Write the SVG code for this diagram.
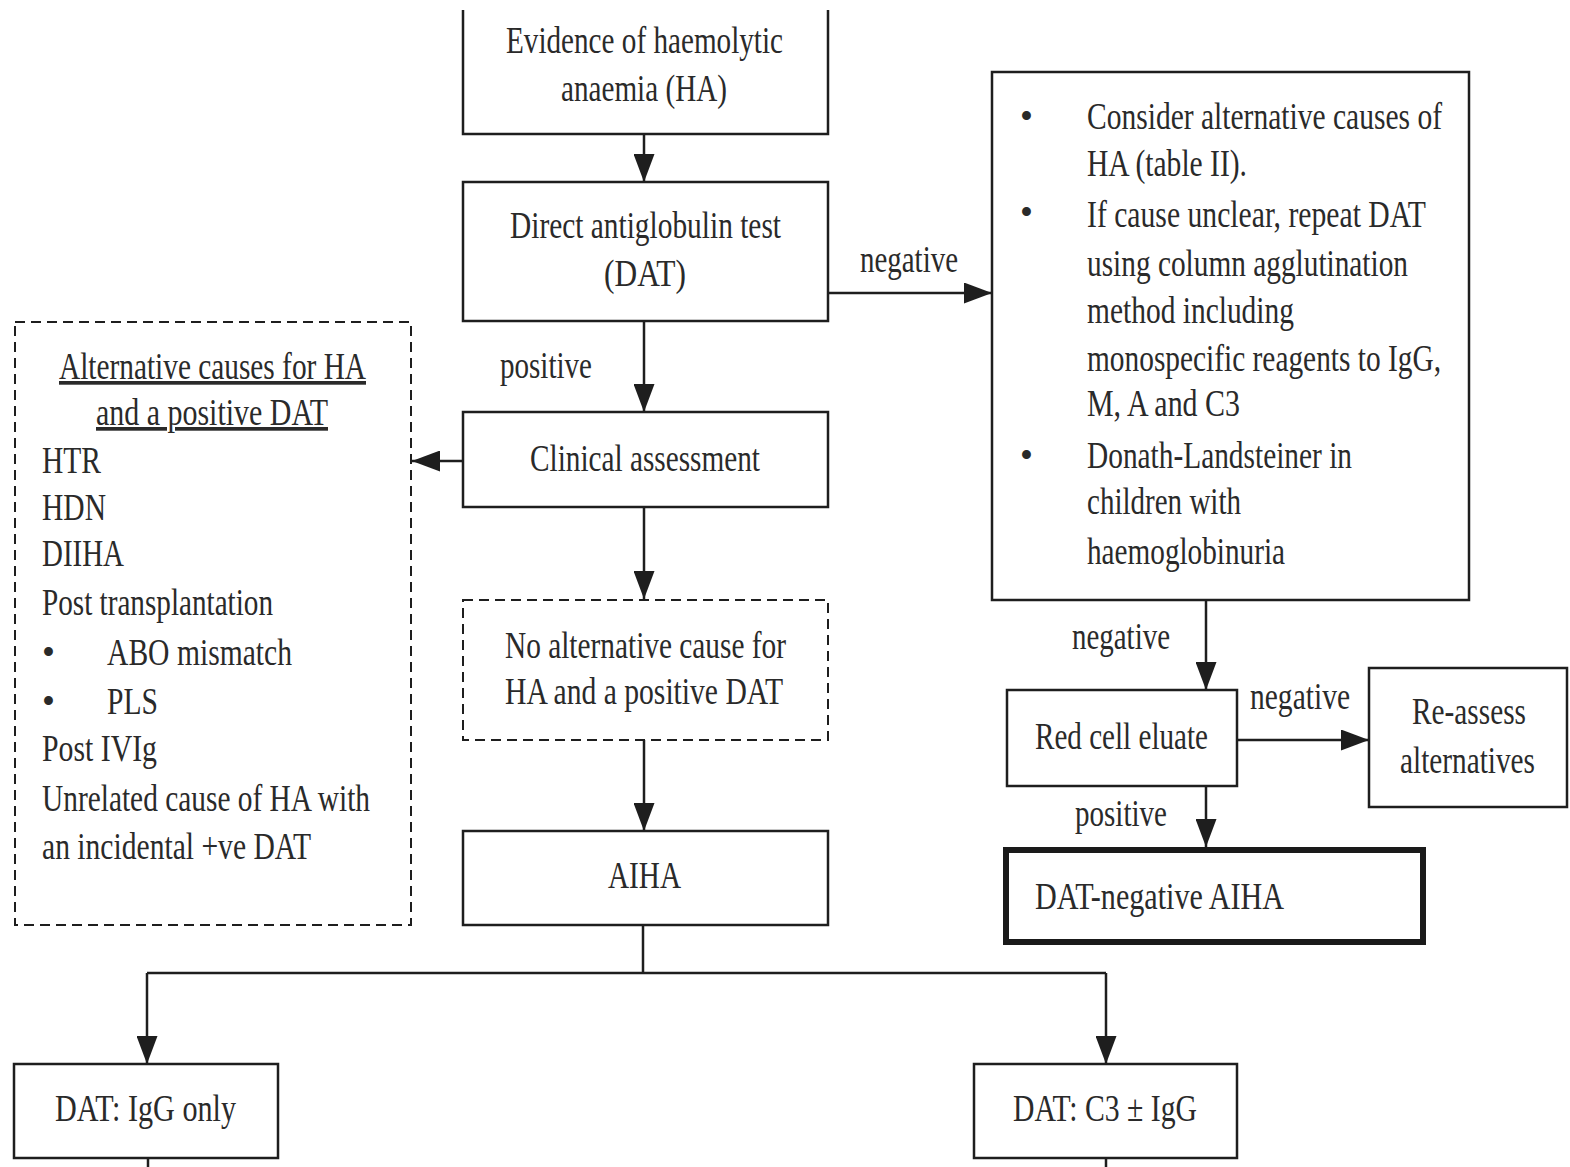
<svg xmlns="http://www.w3.org/2000/svg" width="1570" height="1167" viewBox="0 0 1570 1167">
  <style>
    .box { fill: #ffffff; stroke: #1e1e1e; stroke-width: 2.5; }
    .dash { fill: #ffffff; stroke: #1e1e1e; stroke-width: 2; stroke-dasharray: 10 6; }
    .thick { fill: #ffffff; stroke: #1a1a1a; stroke-width: 6; }
    .wire { fill: none; stroke: #1e1e1e; stroke-width: 2.5; }
    text { font-family: "Liberation Serif", "Times New Roman", serif; font-size: 37px; fill: #2a2a2a; }
    .u { text-decoration: underline; }
  </style>
  <defs>
    <marker id="arrow" markerUnits="userSpaceOnUse" markerWidth="28" markerHeight="21" refX="28" refY="10.5" viewBox="0 0 28 21" orient="auto">
      <path d="M0,0 L28,10.5 L0,21 Z" fill="#1e1e1e"/>
    </marker>
  </defs>
  <rect width="1570" height="1167" fill="#ffffff"/>

  <!-- connectors -->
  <g id="connectors">
    <line class="wire" x1="644" y1="134" x2="644" y2="182" marker-end="url(#arrow)"/>
    <line class="wire" x1="828" y1="293" x2="992" y2="293" marker-end="url(#arrow)"/>
    <line class="wire" x1="644" y1="321" x2="644" y2="412" marker-end="url(#arrow)"/>
    <line class="wire" x1="463" y1="461" x2="412" y2="461" marker-end="url(#arrow)"/>
    <line class="wire" x1="644" y1="507" x2="644" y2="599" marker-end="url(#arrow)"/>
    <line class="wire" x1="644" y1="740" x2="644" y2="831" marker-end="url(#arrow)"/>
    <polyline class="wire" points="643,925 643,973"/>
    <line class="wire" x1="147" y1="973" x2="1106" y2="973"/>
    <line class="wire" x1="147" y1="973" x2="147" y2="1064" marker-end="url(#arrow)"/>
    <line class="wire" x1="1106" y1="973" x2="1106" y2="1064" marker-end="url(#arrow)"/>
    <line class="wire" x1="148" y1="1158" x2="148" y2="1167"/>
    <line class="wire" x1="1106" y1="1158" x2="1106" y2="1167"/>
    <line class="wire" x1="1206" y1="600" x2="1206" y2="690" marker-end="url(#arrow)"/>
    <line class="wire" x1="1237" y1="740" x2="1369" y2="740" marker-end="url(#arrow)"/>
    <line class="wire" x1="1206" y1="786" x2="1206" y2="847" marker-end="url(#arrow)"/>
    <text x="860" y="272" textLength="98" lengthAdjust="spacingAndGlyphs">negative</text>
    <text x="500" y="378" textLength="92" lengthAdjust="spacingAndGlyphs">positive</text>
    <text x="1072" y="649" textLength="98" lengthAdjust="spacingAndGlyphs">negative</text>
    <text x="1250" y="709" textLength="100" lengthAdjust="spacingAndGlyphs">negative</text>
    <text x="1075" y="826" textLength="92" lengthAdjust="spacingAndGlyphs">positive</text>
  </g>

  <g id="evidence">
    <path class="box" d="M463,10 V134 H828 V10" />
    <text x="506" y="53" textLength="277" lengthAdjust="spacingAndGlyphs">Evidence of haemolytic</text>
    <text x="561" y="101" textLength="166" lengthAdjust="spacingAndGlyphs">anaemia (HA)</text>
  </g>

  <g id="dat">
    <rect class="box" x="463" y="182" width="365" height="139"/>
    <text x="510" y="238" textLength="271" lengthAdjust="spacingAndGlyphs">Direct antiglobulin test</text>
    <text x="604" y="286" textLength="82" lengthAdjust="spacingAndGlyphs">(DAT)</text>
  </g>

  <g id="negative-workup">
    <rect class="box" x="992" y="72" width="477" height="528"/>
    <text x="1020" y="129">•</text>
    <text x="1087" y="129" textLength="355" lengthAdjust="spacingAndGlyphs">Consider alternative causes of</text>
    <text x="1087" y="176" textLength="160" lengthAdjust="spacingAndGlyphs">HA (table II).</text>
    <text x="1020" y="225">•</text>
    <text x="1087" y="227" textLength="339" lengthAdjust="spacingAndGlyphs">If cause unclear, repeat DAT</text>
    <text x="1087" y="276" textLength="321" lengthAdjust="spacingAndGlyphs">using column agglutination</text>
    <text x="1087" y="323" textLength="207" lengthAdjust="spacingAndGlyphs">method including</text>
    <text x="1087" y="371" textLength="354" lengthAdjust="spacingAndGlyphs">monospecific reagents to IgG,</text>
    <text x="1087" y="416" textLength="153" lengthAdjust="spacingAndGlyphs">M, A and C3</text>
    <text x="1020" y="468">•</text>
    <text x="1087" y="468" textLength="265" lengthAdjust="spacingAndGlyphs">Donath-Landsteiner in</text>
    <text x="1087" y="514" textLength="154" lengthAdjust="spacingAndGlyphs">children with</text>
    <text x="1087" y="564" textLength="198" lengthAdjust="spacingAndGlyphs">haemoglobinuria</text>
  </g>

  <g id="alternative-causes">
    <rect class="dash" x="15" y="322" width="396" height="603"/>
    <text class="u" x="59" y="379" textLength="307" lengthAdjust="spacingAndGlyphs">Alternative causes for HA</text>
    <text class="u" x="96" y="425" textLength="232" lengthAdjust="spacingAndGlyphs">and a positive DAT</text>
    <text x="42" y="473" textLength="59" lengthAdjust="spacingAndGlyphs">HTR</text>
    <text x="42" y="520" textLength="64" lengthAdjust="spacingAndGlyphs">HDN</text>
    <text x="42" y="566" textLength="82" lengthAdjust="spacingAndGlyphs">DIIHA</text>
    <text x="42" y="615" textLength="231" lengthAdjust="spacingAndGlyphs">Post transplantation</text>
    <text x="42" y="665">•</text>
    <text x="107" y="665" textLength="185" lengthAdjust="spacingAndGlyphs">ABO mismatch</text>
    <text x="42" y="714">•</text>
    <text x="107" y="714" textLength="51" lengthAdjust="spacingAndGlyphs">PLS</text>
    <text x="42" y="761" textLength="115" lengthAdjust="spacingAndGlyphs">Post IVIg</text>
    <text x="42" y="811" textLength="328" lengthAdjust="spacingAndGlyphs">Unrelated cause of HA with</text>
    <text x="42" y="859" textLength="269" lengthAdjust="spacingAndGlyphs">an incidental +ve DAT</text>
  </g>

  <g id="clinical">
    <rect class="box" x="463" y="412" width="365" height="95"/>
    <text x="530" y="471" textLength="230" lengthAdjust="spacingAndGlyphs">Clinical assessment</text>
  </g>

  <g id="no-alternative">
    <rect class="dash" x="463" y="600" width="365" height="140"/>
    <text x="505" y="658" textLength="281" lengthAdjust="spacingAndGlyphs">No alternative cause for</text>
    <text x="505" y="704" textLength="278" lengthAdjust="spacingAndGlyphs">HA and a positive DAT</text>
  </g>

  <g id="aiha">
    <rect class="box" x="463" y="831" width="365" height="94"/>
    <text x="608" y="888" textLength="73" lengthAdjust="spacingAndGlyphs">AIHA</text>
  </g>

  <g id="eluate">
    <rect class="box" x="1007" y="690" width="230" height="96"/>
    <text x="1035" y="749" textLength="173" lengthAdjust="spacingAndGlyphs">Red cell eluate</text>
  </g>

  <g id="reassess">
    <rect class="box" x="1369" y="668" width="198" height="139"/>
    <text x="1412" y="724" textLength="114" lengthAdjust="spacingAndGlyphs">Re-assess</text>
    <text x="1400" y="773" textLength="135" lengthAdjust="spacingAndGlyphs">alternatives</text>
  </g>

  <g id="dat-negative-aiha">
    <rect class="thick" x="1006" y="850" width="417" height="92"/>
    <text x="1035" y="909" textLength="249" lengthAdjust="spacingAndGlyphs">DAT-negative AIHA</text>
  </g>

  <g id="igg-only">
    <rect class="box" x="14" y="1064" width="264" height="94"/>
    <text x="55" y="1121" textLength="181" lengthAdjust="spacingAndGlyphs">DAT: IgG only</text>
  </g>

  <g id="c3-igg">
    <rect class="box" x="974" y="1064" width="263" height="94"/>
    <text x="1013" y="1121" textLength="184" lengthAdjust="spacingAndGlyphs">DAT: C3 ± IgG</text>
  </g>
</svg>
